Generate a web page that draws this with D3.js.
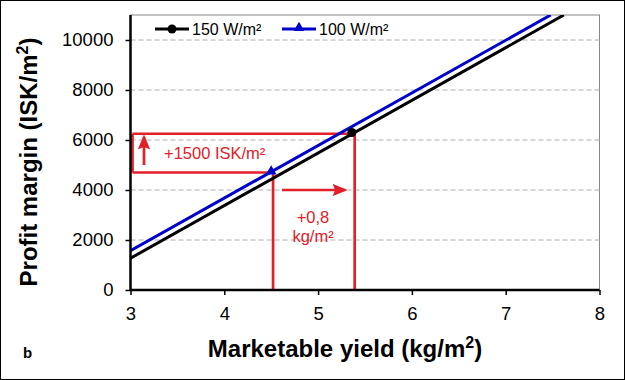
<!DOCTYPE html>
<html><head><meta charset="utf-8">
<script src="https://cdn.jsdelivr.net/npm/d3@7"></script>
<style>body{margin:0;background:#fff}svg{display:block;font-family:"Liberation Sans",Arial,sans-serif}</style>
</head><body><svg id="c" width="625" height="380"></svg>
<script>
// Data
const xTicks = [3, 4, 5, 6, 7, 8];
const yTicks = [0, 2000, 4000, 6000, 8000, 10000];
const series150 = { name: "150 W/m²", x: [3, 7.62], y: [1270, 11000] };
const series100 = { name: "100 W/m²", x: [3, 7.48], y: [1570, 11000] };
const marker150 = { x: 5.36, y: 6300 };
const marker100 = { x: 4.50, y: 4745 };
const annotY = [6250, 4700];     // horizontal red lines
const annotX = [4.52, 5.39];     // vertical red lines
const annotTextY = "+1500 ISK/m²";
const annotTextX = ["+0,8", "kg/m²"];

const svg = d3.select("#c");
const x = d3.scaleLinear().domain([3, 8]).range([130.5, 599.5]);
const y = d3.scaleLinear().domain([0, 11000]).range([290, 15]);
const red = "#e3202a";

svg.append("rect").attr("x", 0.5).attr("y", 0.5).attr("width", 624).attr("height", 379)
  .attr("fill", "#fff").attr("stroke", "#000").attr("stroke-width", 1);

// plot frame (top/right grey)
svg.append("rect").attr("x", x(3)).attr("y", y(11000)).attr("width", x(8) - x(3)).attr("height", y(0) - y(11000))
  .attr("fill", "none").attr("stroke", "#888").attr("stroke-width", 1);

// grid
svg.append("g").selectAll("line").data(yTicks.filter(d => d > 0)).join("line")
  .attr("x1", x(3)).attr("x2", x(8)).attr("y1", d => y(d)).attr("y2", d => y(d))
  .attr("stroke", "#b0b0b0").attr("stroke-width", 1).attr("stroke-dasharray", "5,3");

// clip
svg.append("clipPath").attr("id", "clip").append("rect")
  .attr("x", x(3)).attr("y", y(11000)).attr("width", x(8) - x(3)).attr("height", y(0) - y(11000));

const line = d3.line().x(d => x(d[0])).y(d => y(d[1]));
const pts = s => s.x.map((v, i) => [v, s.y[i]]);

// red annotation lines
const ga = svg.append("g").attr("stroke", red).attr("stroke-width", 2.7).attr("fill", "none");
ga.append("line").attr("x1", x(3) + 2).attr("x2", x(annotX[1])).attr("y1", y(annotY[0])).attr("y2", y(annotY[0]));
ga.append("line").attr("x1", x(3) + 2).attr("x2", x(annotX[0])).attr("y1", y(annotY[1])).attr("y2", y(annotY[1]));
ga.append("line").attr("x1", x(3) + 2).attr("x2", x(3) + 2).attr("y1", y(annotY[0])).attr("y2", y(annotY[1]));
ga.append("line").attr("x1", x(annotX[0])).attr("x2", x(annotX[0])).attr("y1", y(annotY[1])).attr("y2", y(0));
ga.append("line").attr("x1", x(annotX[1])).attr("x2", x(annotX[1])).attr("y1", y(annotY[0])).attr("y2", y(0));

// data lines
const gl = svg.append("g").attr("clip-path", "url(#clip)");
gl.append("path").attr("d", line(pts(series150))).attr("stroke", "#000").attr("stroke-width", 3).attr("fill", "none");
gl.append("path").attr("d", line(pts(series100))).attr("stroke", "#0000cc").attr("stroke-width", 3).attr("fill", "none");

// markers
svg.append("circle").attr("cx", x(marker150.x)).attr("cy", y(marker150.y)).attr("r", 4.5).attr("fill", "#000");
svg.append("path").attr("d", d3.symbol(d3.symbolTriangle, 50)())
  .attr("transform", `translate(${x(marker100.x)},${y(marker100.y)})`).attr("fill", "#0000cc");

// arrows
svg.append("defs").append("marker").attr("id", "ah").attr("viewBox", "0 0 12 10")
  .attr("refX", 10).attr("refY", 5).attr("markerWidth", 5.5).attr("markerHeight", 4.6)
  .attr("markerUnits", "strokeWidth").attr("orient", "auto")
  .append("path").attr("d", "M0,0 L12,5 L0,10 L2,5 z").attr("fill", red);
svg.append("line").attr("x1", 144).attr("y1", 165).attr("x2", 144).attr("y2", 137)
  .attr("stroke", red).attr("stroke-width", 2.7).attr("marker-end", "url(#ah)");
svg.append("line").attr("x1", 282).attr("y1", 190).attr("x2", 345).attr("y2", 190)
  .attr("stroke", red).attr("stroke-width", 2.7).attr("marker-end", "url(#ah)");

svg.append("text").attr("x", 164).attr("y", 159).attr("fill", red).attr("font-size", 16.5).text(annotTextY);
svg.selectAll(".at").data(annotTextX).join("text").attr("class", "at")
  .attr("x", 313).attr("y", (d, i) => 223 + i * 19).attr("text-anchor", "middle")
  .attr("fill", red).attr("font-size", 16.5).text(d => d);

// axes
const yAxis = svg.append("g").attr("transform", `translate(${x(3)},0)`)
  .call(d3.axisLeft(y).tickValues(yTicks).tickSize(5).tickPadding(12).tickFormat(d3.format("d")));
const xAxis = svg.append("g").attr("transform", `translate(0,${y(0)})`)
  .call(d3.axisBottom(x).tickValues(xTicks).tickSize(5).tickPadding(12).tickFormat(d3.format("d")));
[yAxis, xAxis].forEach(g => {
  g.select(".domain").attr("stroke", "#000").attr("stroke-width", 2.5);
  g.selectAll(".tick line").attr("stroke", "#000").attr("stroke-width", 1.5);
  g.selectAll("text").attr("font-size", 18.5).attr("fill", "#000").attr("font-family", '"Liberation Sans",Arial,sans-serif');
});
yAxis.select(".domain").attr("d", `M0,${y(11000)}V${y(0)}`);
xAxis.select(".domain").attr("d", `M${x(3)},0H${x(8)}`);

// axis titles
const yt = svg.append("text").attr("transform", `translate(37,162) rotate(-90)`).attr("text-anchor", "middle")
  .attr("font-size", 24).attr("font-weight", "bold");
yt.append("tspan").text("Profit margin (ISK/m");
yt.append("tspan").attr("font-size", 16).attr("dy", -9).text("2");
yt.append("tspan").attr("dy", 9).text(")");
const xt = svg.append("text").attr("x", 345).attr("y", 357).attr("text-anchor", "middle")
  .attr("font-size", 24).attr("font-weight", "bold");
xt.append("tspan").text("Marketable yield (kg/m");
xt.append("tspan").attr("font-size", 16).attr("dy", -9).text("2");
xt.append("tspan").attr("dy", 9).text(")");

svg.append("text").attr("x", 23).attr("y", 358).attr("font-size", 15).attr("font-weight", "bold").text("b");

// legend
const leg = [
  { s: series150, color: "#000", sym: "circle", x0: 155 },
  { s: series100, color: "#0000cc", sym: "tri", x0: 282 }
];
leg.forEach(l => {
  svg.append("line").attr("x1", l.x0).attr("x2", l.x0 + 34).attr("y1", 29).attr("y2", 29)
    .attr("stroke", l.color).attr("stroke-width", 3);
  if (l.sym === "circle") svg.append("circle").attr("cx", l.x0 + 17).attr("cy", 29).attr("r", 4.5).attr("fill", l.color);
  else svg.append("path").attr("d", d3.symbol(d3.symbolTriangle, 50)()).attr("transform", `translate(${l.x0 + 17},28)`).attr("fill", l.color);
  svg.append("text").attr("x", l.x0 + 37).attr("y", 35).attr("font-size", 16).text(l.s.name);
});
</script></body></html>
